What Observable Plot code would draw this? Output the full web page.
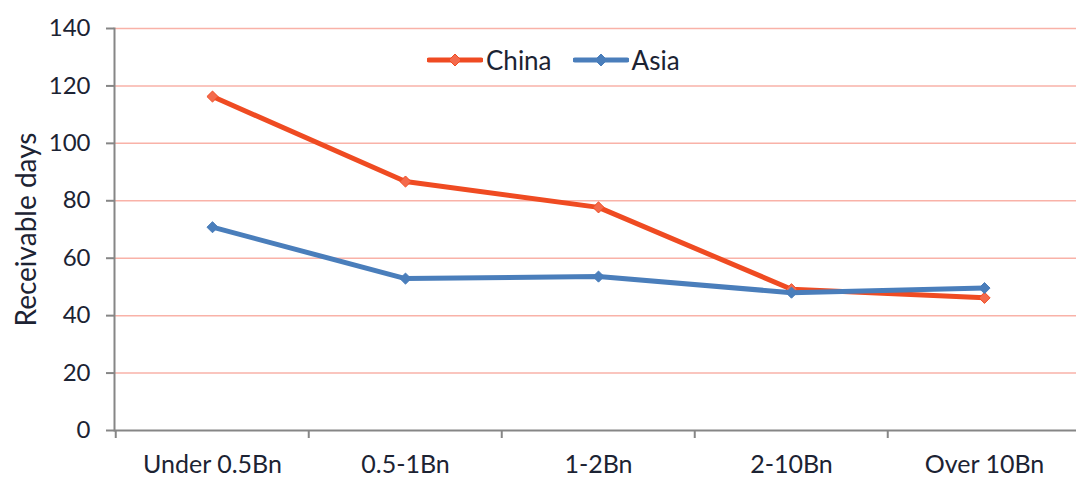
<!DOCTYPE html>
<html>
<head>
<meta charset="utf-8">
<script src="https://cdn.jsdelivr.net/npm/d3@7"></script>
<script src="https://cdn.jsdelivr.net/npm/@observablehq/plot@0.6"></script>
<style>
  html, body { margin: 0; padding: 0; background: #fff; overflow: hidden; }
  #chart { position: relative; width: 1076px; height: 479px; font-family: Lato, "Open Sans", sans-serif; color: #1c2333; }
  .legend { position: absolute; top: 44px; left: 427px; display: flex; align-items: center; font-size: 26px; }
  .legend .item { display: flex; align-items: center; margin-right: 21px; }
  .legend svg { display: block; margin-right: 3px; }
</style>
</head>
<body>
<div id="chart"></div>
<script>
// Receivable days by company revenue size
const categories = ["Under 0.5Bn", "0.5-1Bn", "1-2Bn", "2-10Bn", "Over 10Bn"];
const chinaDays = [116.3, 86.7, 77.7, 49.2, 46.2];
const asiaDays = [70.8, 52.9, 53.6, 48.0, 49.6];
const seriesNames = ["China", "Asia"];
const seriesColors = ["#ef4b22", "#4a7ebb"];
const markerFills = ["#f46a4c", "#4a7ebb"];
const yTicks = [0, 20, 40, 60, 80, 100, 120, 140];
const yLabel = "Receivable days";

const seriesValues = [chinaDays, asiaDays];
const rows = seriesNames.flatMap((name, s) =>
  categories.map((cat, i) => ({series: name, cat, value: seriesValues[s][i]}))
);

// category centres; each category occupies one band of width `step`
const xRange = [210.5, 984.5];
const step = (xRange[1] - xRange[0]) / (categories.length - 1);
const axisGray = "#868686";

const seriesMarks = seriesNames.flatMap((name, s) => {
  const data = rows.filter(d => d.series === name);
  return [
    Plot.lineY(data, {x: "cat", y: "value", stroke: seriesColors[s], strokeWidth: 5, strokeLinejoin: "round"}),
    Plot.dot(data, {x: "cat", y: "value", symbol: "diamond2", r: 5, fill: markerFills[s], stroke: seriesColors[s], strokeWidth: 1})
  ];
});

const chart = Plot.plot({
  width: 1076,
  height: 479,
  marginLeft: 114,
  marginRight: 0,
  marginTop: 28,
  marginBottom: 49,
  style: {fontFamily: "Lato, 'Open Sans', sans-serif", color: "#1c2333", background: "transparent", overflow: "visible"},
  x: {type: "point", domain: categories, range: xRange, padding: 0},
  y: {domain: [0, 140]},
  marks: [
    Plot.gridY(yTicks.filter(d => d > 0), {stroke: "#f9b2a8", strokeOpacity: 1, strokeWidth: 1.5}),
    Plot.axisY(yTicks, {tickSize: 8, tickPadding: 16, fontSize: 24, stroke: axisGray, strokeWidth: 2, label: null}),
    Plot.axisX(categories, {tickSize: 8, tickFormat: () => "", dx: -step / 2, stroke: axisGray, strokeWidth: 2, label: null}),
    Plot.axisX(categories, {tickSize: 0, tickPadding: 25, fontSize: 25, label: null}),
    Plot.frame({anchor: "left", stroke: axisGray, strokeWidth: 2}),
    Plot.ruleY([0], {stroke: axisGray, strokeWidth: 2}),
    Plot.text([yLabel], {frameAnchor: "left", textAnchor: "middle", rotate: -90, dx: -87, fontSize: 28, fill: "#1c2333"}),
    ...seriesMarks
  ]
});

const root = document.getElementById("chart");
root.appendChild(chart);

// Legend drawn inside the plot area
const legend = document.createElement("div");
legend.className = "legend";
seriesNames.forEach((name, s) => {
  const item = document.createElement("div");
  item.className = "item";
  item.innerHTML =
    `<svg width="56" height="14" viewBox="0 0 56 14">
       <line x1="2" y1="7" x2="54" y2="7" stroke="${seriesColors[s]}" stroke-width="5" stroke-linecap="round"/>
       <path d="M28,1 L34,7 L28,13 L22,7 Z" fill="${markerFills[s]}" stroke="${seriesColors[s]}" stroke-width="1"/>
     </svg><span>${name}</span>`;
  legend.appendChild(item);
});
root.appendChild(legend);
</script>
</body>
</html>
